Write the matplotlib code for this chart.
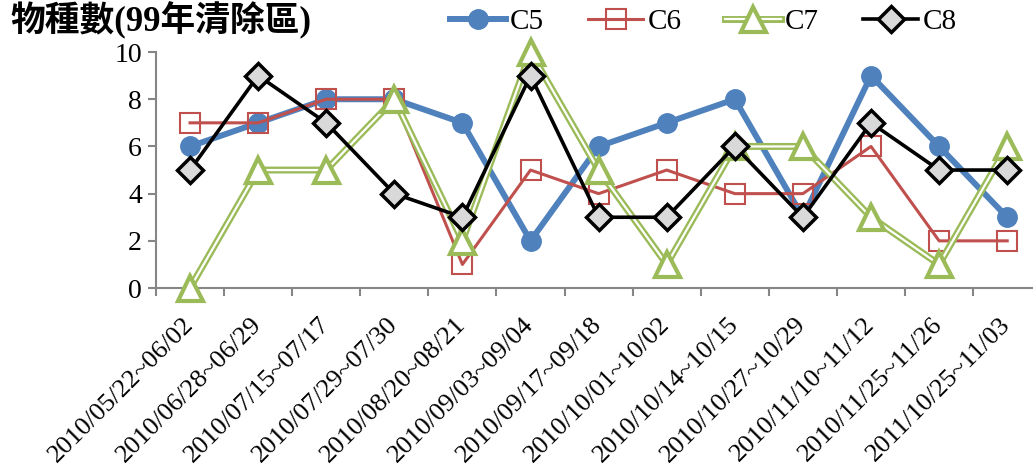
import numpy as np
import matplotlib
matplotlib.use('Agg')
import matplotlib.pyplot as plt
from matplotlib.legend_handler import HandlerTuple

# 採樣期間
periods = ['2010/05/22~06/02', '2010/06/28~06/29', '2010/07/15~07/17',
           '2010/07/29~07/30', '2010/08/20~08/21', '2010/09/03~09/04',
           '2010/09/17~09/18', '2010/10/01~10/02', '2010/10/14~10/15',
           '2010/10/27~10/29', '2010/11/10~11/12', '2010/11/25~11/26',
           '2011/10/25~11/03']

c5 = [6, 7, 8, 8, 7, 2, 6, 7, 8, 3, 9, 6, 3]
c6 = [7, 7, 8, 8, 1, 5, 4, 5, 4, 4, 6, 2, 2]
c7 = [0, 5, 5, 8, 2, 10, 5, 1, 6, 6, 3, 1, 6]
c8 = [5, 9, 7, 4, 3, 9, 3, 3, 6, 3, 7, 5, 5]

yticks = [0, 2, 4, 6, 8, 10]

plt.rcParams['font.family'] = ['Liberation Serif', 'Noto Sans CJK TC']

fig = plt.figure(figsize=(10.33, 4.73), dpi=100)
# 右邊界超出圖外 (原圖被裁切)
ax = fig.add_axes([0.151, 0.391, 0.857, 0.499])

x = np.arange(len(periods))

l5, = ax.plot(x, c5, color='#4F81BD', lw=4.3, marker='o', ms=14,
              mfc='#4F81BD', mec='#4F81BD', clip_on=False, zorder=3)
l6, = ax.plot(x, c6, color='#C0504D', lw=2.2, marker='s', ms=15,
              mfc='none', mec='#C0504D', mew=1.5, clip_on=False, zorder=4)
# C7 雙線
g1, = ax.plot(x, c7, color='#9BBB59', lw=5, clip_on=False, zorder=5)
g2, = ax.plot(x, c7, color='white', lw=1.6, clip_on=False, zorder=5)
g3, = ax.plot(x, c7, ls='none', marker='^', ms=18, mfc='white',
              mec='#9BBB59', mew=3, clip_on=False, zorder=5)
l8, = ax.plot(x, c8, color='black', lw=2.6, marker='D', ms=13,
              mfc='#D9D9D9', mec='black', mew=2.5, clip_on=False, zorder=6)

ax.set_xlim(-0.5, len(periods) - 0.5)
ax.set_ylim(0, 10)
ax.set_yticks(yticks)
ax.tick_params(axis='y', labelsize=20, color='#868686', length=6, width=1.5, pad=4)

ax.set_xticks(np.arange(-0.5, len(periods), 1))
ax.set_xticklabels([])
ax.tick_params(axis='x', which='major', color='#868686', length=6, width=1.5)
ax.set_xticks(x, minor=True)
ax.set_xticklabels(periods, minor=True, rotation=45, ha='right', va='center',
                   rotation_mode='anchor', fontsize=19)
ax.tick_params(axis='x', which='minor', length=0, pad=24)

for s in ['top', 'right']:
    ax.spines[s].set_visible(False)
for s in ['left', 'bottom']:
    ax.spines[s].set_color('#868686')
    ax.spines[s].set_linewidth(1.5)

fig.text(0.01, 0.956, '物種數(99年清除區)', fontsize=25, fontweight='bold',
         ha='left', va='center')

fig.legend([l5, l6, (g1, g2, g3), l8], ['C5', 'C6', 'C7', 'C8'],
           handler_map={tuple: HandlerTuple(ndivide=1)},
           loc='center', bbox_to_anchor=(0.681, 0.953), ncol=4, frameon=False,
           fontsize=21, handlelength=1.9, handletextpad=0.15, columnspacing=1.5,
           borderpad=0)

fig.savefig('out.png', dpi=100)
